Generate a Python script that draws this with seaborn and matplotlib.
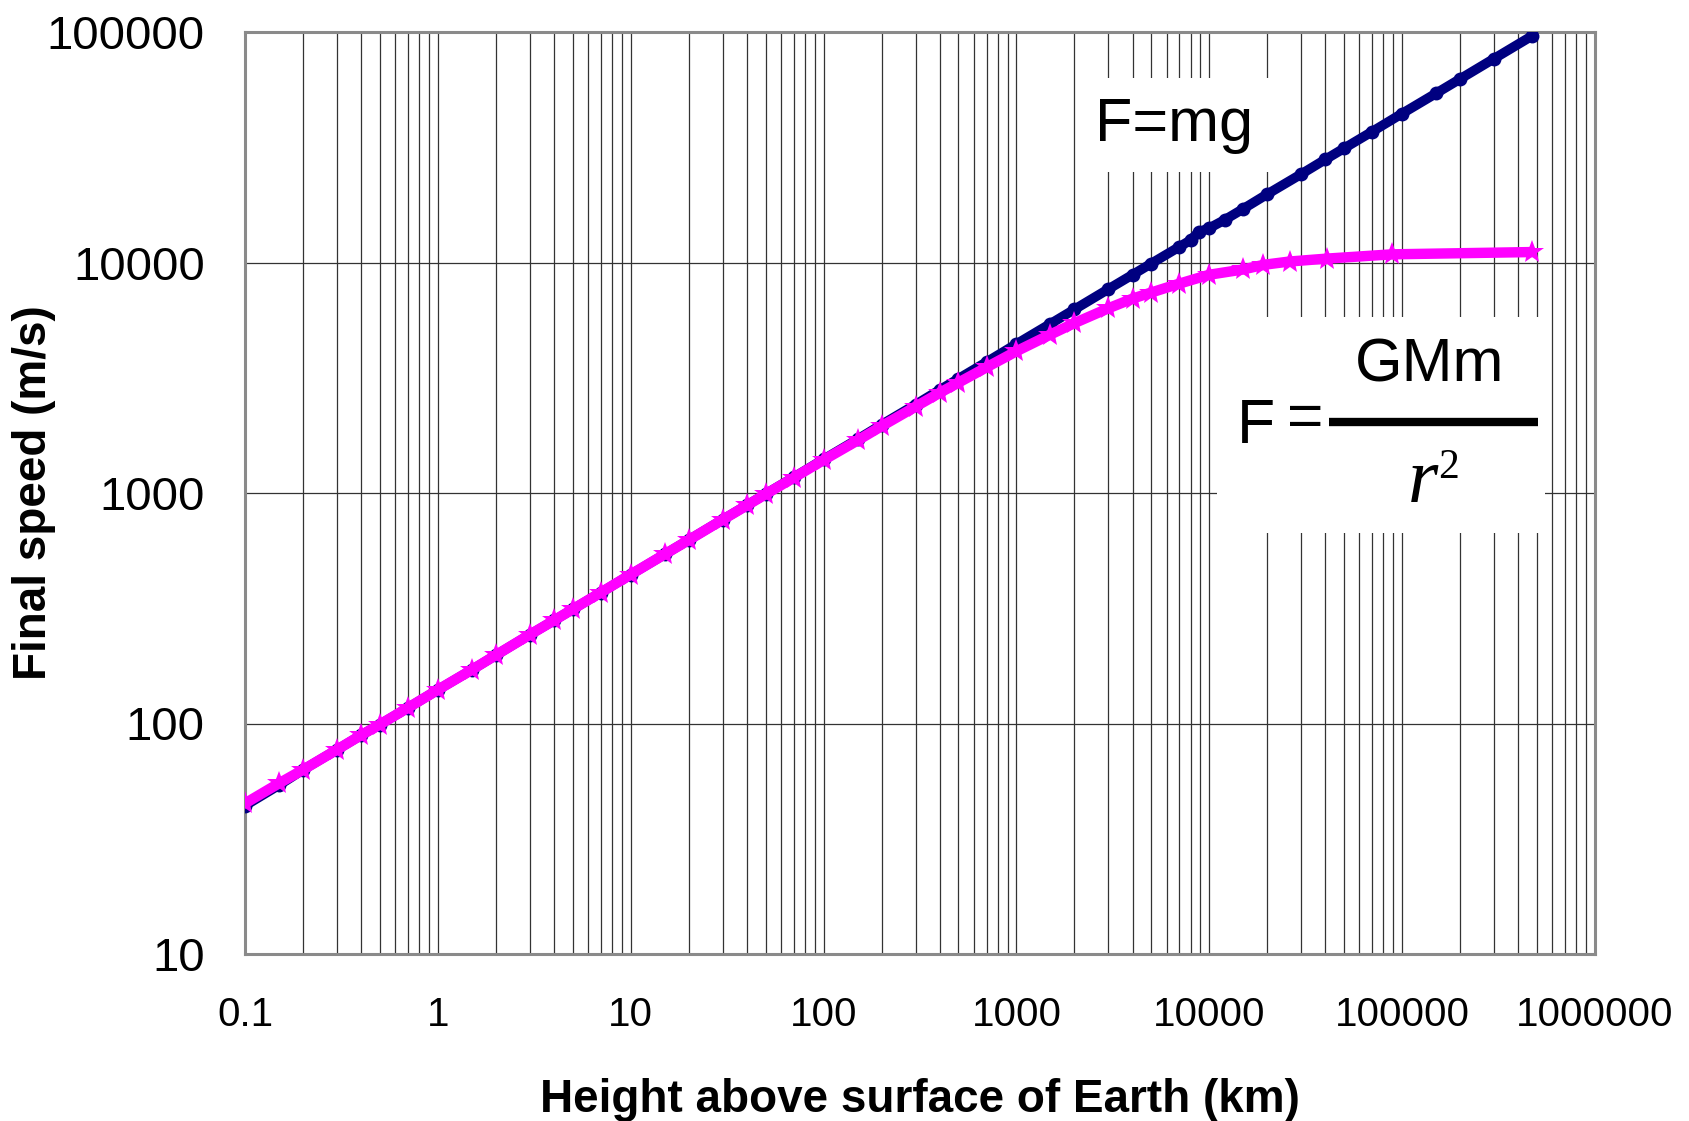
import numpy as np
import pandas as pd
import matplotlib
matplotlib.use("Agg")
import matplotlib.pyplot as plt
import matplotlib.ticker as mticker
from matplotlib.patches import Rectangle
import seaborn as sns

# ----------------------------
# Data
# ----------------------------
# F = mg  (constant g)
mg_height = [0.1, 0.15, 0.2, 0.3, 0.4, 0.5, 0.7, 1, 1.5, 2, 3, 4, 5, 7,
             10, 15, 20, 30, 40, 50, 70, 100, 150, 200, 300, 400, 500, 700,
             1000, 1500, 2000, 3000, 4000, 5000, 7000, 8000, 8850, 10000, 12000,
             15000, 20000, 30000, 40000, 50000, 70000, 100000, 150000, 200000,
             300000, 470000]
mg_speed = [44, 54, 63, 77, 89, 99, 117, 140, 171, 198, 243, 280, 313, 370,
            443, 542, 626, 767, 885, 990, 1170, 1400, 1710, 1980, 2420, 2800, 3130, 3700,
            4430, 5420, 6260, 7670, 8850, 9900, 11700, 12500, 13600, 14100, 15300,
            17100, 19800, 24200, 28000, 31300, 37000, 44300, 54200, 62600,
            76700, 96000]

# F = GMm / r^2
grav_height = [0.1, 0.15, 0.2, 0.3, 0.4, 0.5, 0.7, 1, 1.5, 2, 3, 4, 5, 7,
               10, 15, 20, 30, 40, 50, 70, 100, 150, 200, 300, 400, 500, 700,
               1000, 1500, 2000, 3000, 4000, 5000, 7000, 10000, 15000,
               19100, 26100, 40900, 88600, 470000]
grav_speed = [45, 55, 63, 77, 89, 99, 117, 140, 171, 198, 243, 280, 313, 370,
              443, 542, 625, 766, 883, 987, 1165, 1390, 1690, 1950, 2370, 2720, 3010, 3510,
              4120, 4870, 5460, 6330, 6970, 7410, 8100, 8850, 9330,
              9770, 10100, 10400, 10850, 11100]

x_ticks = [0.1, 1, 10, 100, 1000, 10000, 100000, 1000000]
x_labels = ["0.1", "1", "10", "100", "1000", "10000", "100000", "1000000"]
y_ticks = [10, 100, 1000, 10000, 100000]
y_labels = ["10", "100", "1000", "10000", "100000"]

df_mg = pd.DataFrame({"height": mg_height, "speed": mg_speed})
df_grav = pd.DataFrame({"height": grav_height, "speed": grav_speed})

# ----------------------------
# Plot
# ----------------------------
sns.set_style("white")
plt.rcParams["font.family"] = ["Liberation Sans", "DejaVu Sans"]
plt.rcParams["text.color"] = "black"
plt.rcParams["axes.labelcolor"] = "black"
plt.rcParams["xtick.color"] = "black"
plt.rcParams["ytick.color"] = "black"

W, H = 1690, 1121
fig = plt.figure(figsize=(W / 100, H / 100), dpi=100)
ax_l, ax_r, ax_t, ax_b = 245, 1595, 32, 954
ax = fig.add_axes([ax_l / W, 1 - ax_b / H, (ax_r - ax_l) / W, (ax_b - ax_t) / H])

sns.lineplot(data=df_mg, x="height", y="speed", ax=ax, color="#000080",
             marker="o", linewidth=7, markersize=10, markeredgewidth=0,
             sort=False, estimator=None, zorder=3)
sns.lineplot(data=df_grav, x="height", y="speed", ax=ax, color="#FF00FF",
             marker="*", linewidth=7.5, markersize=18, markeredgewidth=0,
             sort=False, estimator=None, zorder=4)

ax.set_xscale("log")
ax.set_yscale("log")
ax.set_xlim(0.1, 1e6)
ax.set_ylim(10, 1e5)

ax.set_xticks(x_ticks)
ax.set_xticklabels(x_labels)
ax.set_yticks(y_ticks)
ax.set_yticklabels(y_labels)
ax.xaxis.set_minor_locator(mticker.LogLocator(base=10, subs=np.arange(2, 10), numticks=20))
ax.xaxis.set_minor_formatter(mticker.NullFormatter())
ax.yaxis.set_minor_locator(mticker.NullLocator())

ax.tick_params(axis="x", which="major", direction="out", length=7, width=1,
               color="#555555", labelsize=29, pad=23)
ax.tick_params(axis="x", which="minor", length=0)
ax.tick_params(axis="y", which="major", direction="out", length=11, width=1,
               color="#333333", labelsize=34, pad=18)

ax.set_axisbelow(True)
ax.grid(which="major", axis="both", color="#333333", linewidth=0.9)
ax.grid(which="minor", axis="x", color="#333333", linewidth=0.9)

for sp in ax.spines.values():
    sp.set_color("#8a8a8a")
    sp.set_linewidth(2.2)

ax.set_xlabel("Height above surface of Earth (km)", fontsize=33, fontweight="bold")
ax.set_ylabel("Final speed (m/s)", fontsize=33, fontweight="bold")
ax.xaxis.set_label_coords(0.5, -0.135)
ax.xaxis.label.set_va("top")
ax.yaxis.label.set_va("center")
ax.yaxis.set_label_coords((34 - ax_l) / (ax_r - ax_l), 0.5)


def ax_x(px):
    return (px - ax_l) / (ax_r - ax_l)


def ax_y(py):
    return (ax_b - py) / (ax_b - ax_t)


# white boxes behind the two annotations
for (x0, y0, x1, y1) in [(1077, 78, 1270, 172), (1217, 317, 1545, 533)]:
    ax.add_patch(Rectangle((ax_x(x0), ax_y(y1)), ax_x(x1) - ax_x(x0), ax_y(y0) - ax_y(y1),
                           transform=ax.transAxes, facecolor="white", edgecolor="none",
                           zorder=1))

ax.text(ax_x(1174), ax_y(125), "F=mg", transform=ax.transAxes, fontsize=44,
        ha="center", va="center", zorder=5)

# F = GMm / r^2
ax.text(ax_x(1237), ax_y(443), "F", transform=ax.transAxes, fontsize=45,
        ha="left", va="baseline", zorder=5)
ax.text(ax_x(1305), ax_y(420), "=", transform=ax.transAxes, fontsize=45,
        ha="center", va="center", zorder=5)
ax.text(ax_x(1430), ax_y(382), "GMm", transform=ax.transAxes, fontsize=44,
        ha="center", va="baseline", zorder=5)
ax.plot([ax_x(1329), ax_x(1538)], [ax_y(422), ax_y(422)], transform=ax.transAxes,
        color="black", linewidth=6, solid_capstyle="butt", zorder=5)
ax.text(ax_x(1423), ax_y(502), "r", transform=ax.transAxes, fontsize=56,
        family=["Liberation Serif", "DejaVu Serif"], style="italic",
        ha="center", va="baseline", zorder=5)
ax.text(ax_x(1438), ax_y(478), "2", transform=ax.transAxes, fontsize=30,
        family=["Liberation Serif", "DejaVu Serif"],
        ha="left", va="baseline", zorder=5)

fig.savefig("out.png", dpi=100)
